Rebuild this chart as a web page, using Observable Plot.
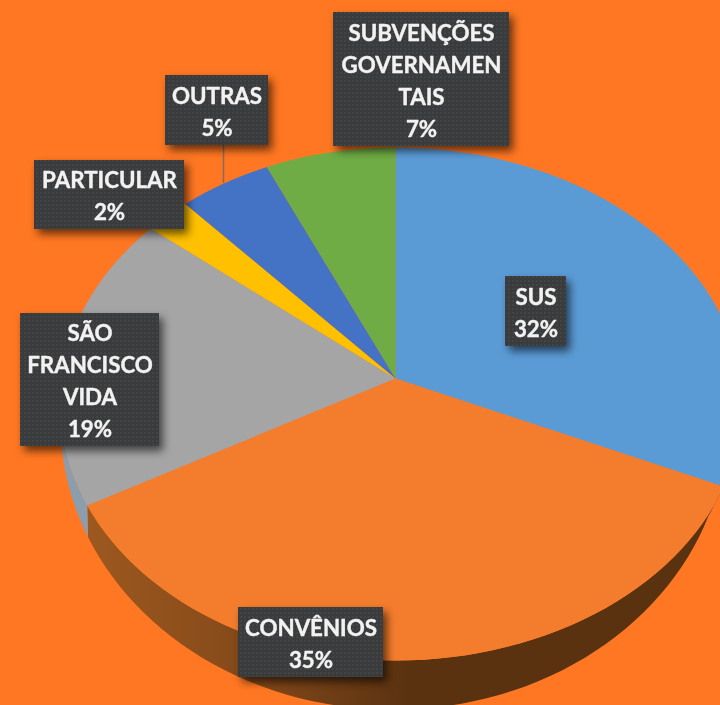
<!DOCTYPE html>
<html lang="pt">
<head>
<meta charset="utf-8">
<script src="https://cdn.jsdelivr.net/npm/d3@7"></script>
<script src="https://cdn.jsdelivr.net/npm/@observablehq/plot@0.6"></script>
<style>
html,body{margin:0;padding:0;background:#FF7722;overflow:hidden}
#chart svg{display:block;filter:blur(0.55px)}
.box{filter:drop-shadow(4px 5px 4px rgba(0,0,0,.6))}
</style>
</head>
<body>
<div id="chart"></div>
<script>
// Data (slice sizes estimated; labels print them rounded)
const categories = ["SUS","CONVÊNIOS","SÃO FRANCISCO VIDA","PARTICULAR","OUTRAS","SUBVENÇÕES GOVERNAMENTAIS"];
const values = [31.7,35.4,18.7,2.4,4.9,6.9];
const labelTexts = ["SUS","CONVÊNIOS","SÃO\nFRANCISCO\nVIDA","PARTICULAR","OUTRAS","SUBVENÇÕES\nGOVERNAMEN\nTAIS"];

// Style and layout (separate from the data)
const sliceColors = ["#5B9BD5","#F37D2D","#A5A5A5","#FFC000","#4472C4","#6FAC45"];
const boxX1 = [505,238,20,34,165,333];
const boxX2 = [566,383,159,184,268,509];
const boxY1 = [276,607,313,160,75,12];
const boxY2 = [346,677,446,229,145,146];

// Tilted-disc projection of the pie, in page pixels
const k = 0.0994;
const upper = {cx: 395, cy: 378, left: 334, right: 345, s: 254};
const lower = {cx: 393, cy: 395, left: 331, right: 331, s: 283};
const project = (deg, f) => {
  const a = deg * Math.PI / 180, u = Math.sin(a), v = Math.cos(a), w = 1 + k * v;
  return {x: f.cx + (u >= 0 ? f.right : f.left) * u / w, y: f.cy - f.s * v / w};
};
const arc = (a0, a1, f) => d3.range(0, 61).map(i => project(a0 + (a1 - a0) * i / 60, f));

let cum = 0;
const slices = categories.map((name, i) => {
  const a0 = cum * 3.6; cum += values[i];
  return {name, a0, a1: cum * 3.6};
});
const topFace = slices.flatMap(s => [{x: upper.cx, y: upper.cy}, ...arc(s.a0, s.a1, upper)].map(p => ({...p, name: s.name})));

// Side wall: visible between 90° and 270°
const wall = (a0, a1) => [...arc(a0, a1, upper), ...arc(a0, a1, lower).reverse()];
const end1 = slices[0].a1, end2 = slices[1].a1;

const labels = categories.map((name, i) => ({
  text: `${labelTexts[i]}\n${Math.round(values[i])}%`,
  x1: boxX1[i], x2: boxX2[i], y1: boxY1[i], y2: boxY2[i]
}));
const leader = [{x: 223, y: 145}, {x: 223, y: 182}];

const defs = () => d3.create("svg:defs").html(`
  <linearGradient id="wallOrange" gradientUnits="userSpaceOnUse" x1="90" y1="0" x2="410" y2="0">
    <stop offset="0" stop-color="#9C581F"/>
    <stop offset="0.5" stop-color="#84491A"/>
    <stop offset="1" stop-color="#5A3210"/>
  </linearGradient>
  <pattern id="dots" width="4" height="4" patternUnits="userSpaceOnUse">
    <rect width="4" height="4" fill="#3A3B3C"/>
    <circle cx="1" cy="1" r="0.8" fill="#4E4F50"/>
  </pattern>`).node();

const xy = {x: "x", y: "y"};
const chart = Plot.plot({
  width: 720, height: 705, margin: 0,
  style: {background: "#FF7722"},
  x: {domain: [0, 720], range: [0, 720], axis: null},
  y: {domain: [0, 705], range: [0, 705], axis: null},
  color: {domain: categories, range: sliceColors},
  marks: [
    defs,
    Plot.line(wall(90, end1), {...xy, fill: "#2F5F88", stroke: "none"}),
    Plot.line(wall(end1, end2), {...xy, fill: "url(#wallOrange)", stroke: "none"}),
    Plot.line(wall(end2, 270), {...xy, fill: "#8C9DAD", stroke: "none"}),
    Plot.line(topFace, {...xy, z: "name", fill: "name", stroke: "none"}),
    Plot.line(leader, {...xy, stroke: "#8A6A58", strokeWidth: 1.5}),
    Plot.rect(labels, {x1: "x1", x2: "x2", y1: "y1", y2: "y2", fill: "url(#dots)", className: "box"}),
    Plot.text(labels, {
      x: d => (d.x1 + d.x2) / 2, y: d => (d.y1 + d.y2) / 2, dy: -1,
      text: "text", fill: "#F2F2F2", stroke: "#F2F2F2", strokeWidth: 0.4, fontFamily: "Lato", fontWeight: 700,
      fontSize: 22.3, lineHeight: 1.435, textAnchor: "middle", lineAnchor: "middle"
    })
  ]
});
document.getElementById("chart").append(chart);
</script>
</body>
</html>
